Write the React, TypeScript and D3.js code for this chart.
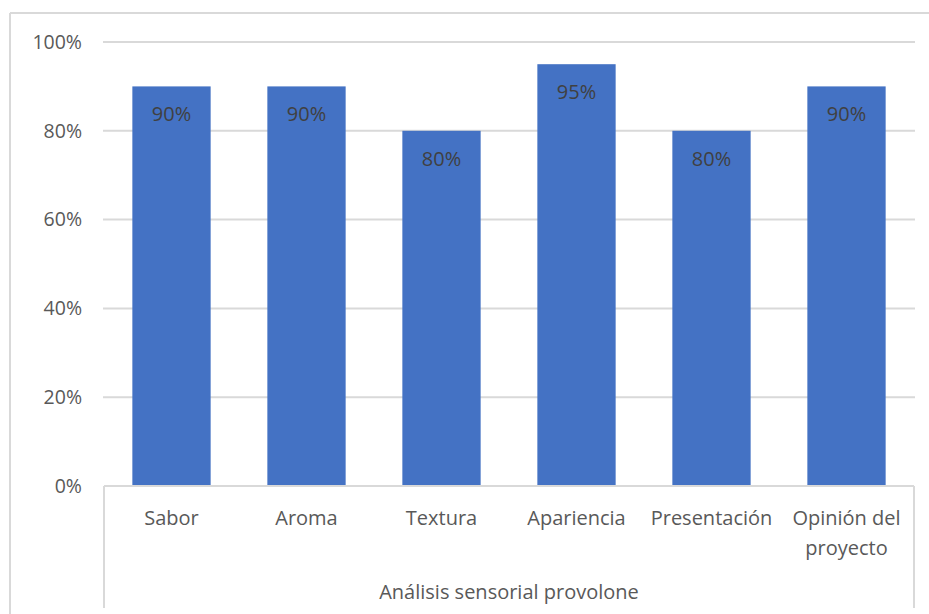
import React from "react";
import * as d3 from "d3";

const categories = ["Sabor", "Aroma", "Textura", "Apariencia", "Presentación", "Opinión del proyecto"];
const values = [0.9, 0.9, 0.8, 0.95, 0.8, 0.9];
const yTicks = [0, 0.2, 0.4, 0.6, 0.8, 1.0];
const groupLabel = "Análisis sensorial provolone";

const W = 929;
const H = 614;
const font = "'Open Sans', 'Noto Sans', sans-serif";

export default function App() {
  const left = 104, right = 914, top = 42, bottom = 486;
  const x = d3.scaleBand<string>().domain(categories).range([left, right]).paddingInner(0.42).paddingOuter(0.21);
  const y = d3.scaleLinear().domain([0, 1]).range([bottom, top]);
  const fmt = d3.format(".0%");
  const labelLines: Record<string, string[]> = { "Opinión del proyecto": ["Opinión del", "proyecto"] };
  return (
    <svg width={W} height={H} style={{ position: "absolute", left: 0, top: 0, background: "#fff" }}>
      <rect x={0} y={0} width={W} height={H} fill="#fff" />
      <line x1={10} y1={13} x2={W} y2={13} stroke="#d9d9d9" strokeWidth={2} />
      <line x1={10} y1={13} x2={10} y2={H} stroke="#d9d9d9" strokeWidth={2} />
      {yTicks.map((t) => (
        <g key={t}>
          {t > 0 && <line x1={103} x2={915} y1={y(t)} y2={y(t)} stroke="#d9d9d9" strokeWidth={2} />}
          <text x={82} y={y(t)} dy="0.35em" textAnchor="end" fontFamily={font} fontSize={19.5} fill="#595959">
            {fmt(t)}
          </text>
        </g>
      ))}
      {categories.map((c, i) => (
        <g key={c}>
          <rect x={x(c)} y={y(values[i])} width={x.bandwidth()} height={y(0) - y(values[i])} fill="#4472C4" />
          <text x={(x(c) as number) + x.bandwidth() / 2} y={y(values[i]) + 35} textAnchor="middle" fontFamily={font} fontSize={20} fill="#404040">
            {fmt(values[i])}
          </text>
          {(labelLines[c] || [c]).map((ln, j) => (
            <text key={j} x={(x(c) as number) + x.bandwidth() / 2} y={525 + j * 30} textAnchor="middle" fontFamily={font} fontSize={20} fill="#595959">
              {ln}
            </text>
          ))}
        </g>
      ))}
      <line x1={left} x2={right} y1={bottom} y2={bottom} stroke="#d9d9d9" strokeWidth={2} />
      <line x1={left} x2={left} y1={bottom} y2={608} stroke="#d9d9d9" strokeWidth={2} />
      <line x1={right} x2={right} y1={bottom} y2={608} stroke="#d9d9d9" strokeWidth={2} />
      <text x={(left + right) / 2} y={599} textAnchor="middle" fontFamily={font} fontSize={20} fill="#595959">
        {groupLabel}
      </text>
    </svg>
  );
}
